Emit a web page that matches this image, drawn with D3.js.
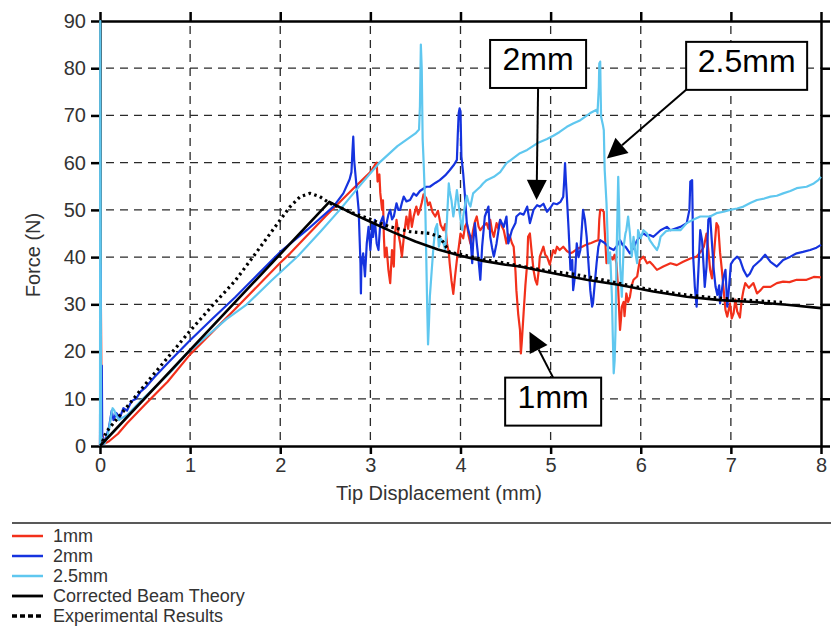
<!DOCTYPE html>
<html>
<head>
<meta charset="utf-8">
<script src="https://cdn.jsdelivr.net/npm/d3@7"></script>
<style>
  html, body { margin: 0; padding: 0; background: #fff; }
  svg { display: block; font-family: "Liberation Sans", Arial, Helvetica, sans-serif; }
</style>
</head>
<body>
<svg id="chart" width="831" height="627"></svg>
<script>
// ---- data: force (N) vs tip displacement (mm) ----
const xTicks = [0, 1, 2, 3, 4, 5, 6, 7, 8];
const yTicks = [0, 10, 20, 30, 40, 50, 60, 70, 80, 90];
const xLabel = "Tip Displacement (mm)";
const yLabel = "Force (N)";
const legendLabels = ["1mm", "2mm", "2.5mm", "Corrected Beam Theory", "Experimental Results"];

// 1 mm specimen
const series1mm = [
  [0,0],[0.01,30],[0.02,3],[0.05,0.5],[0.1,1],[0.2,2.6],[0.3,4.8],[0.5,8.8],[0.75,13.6],[1.0,19.4],
  [1.5,29],[2.0,38.8],[2.11,40.8],[2.5,48.6],[2.8,54.3],[3.0,58],[3.05,59.5],[3.07,60],
  [3.08,56],[3.1,57.5],[3.11,53.6],[3.13,50],[3.14,52],[3.15,44.3],[3.16,40],[3.18,42],[3.2,37.3],
  [3.22,34.5],[3.24,41.5],[3.26,38],[3.27,44.3],[3.29,47.9],[3.31,45],[3.33,43],[3.35,40.1],[3.37,44],
  [3.38,45.7],[3.40,48.6],[3.42,46],[3.44,50],[3.46,46.4],[3.48,48.6],[3.51,50.7],[3.53,49],[3.55,50],
  [3.57,51.5],[3.59,53.3],[3.62,52.5],[3.64,51],[3.66,51.6],[3.69,49.5],[3.72,48.6],[3.75,49.8],
  [3.78,46.8],[3.81,45.7],[3.83,47],[3.85,42.9],[3.87,41],[3.88,38.7],[3.90,35],[3.92,32.2],[3.94,36],
  [3.96,39.4],[3.98,42],[4.0,45],[4.03,44],[4.05,46.5],[4.07,47.2],[4.09,44.5],[4.11,42.9],[4.13,44.5],
  [4.14,45.7],[4.16,47.5],[4.18,48.6],[4.20,46.5],[4.22,45.7],[4.25,46.5],[4.29,47.2],[4.31,46],
  [4.33,47.9],[4.35,45.5],[4.37,44.3],[4.40,47.2],[4.42,46],[4.44,47.9],[4.46,46.5],[4.48,45.7],
  [4.51,42.9],[4.53,44.8],[4.55,44.3],[4.57,43],[4.59,42.2],[4.61,37],[4.62,33],[4.64,28],[4.66,24.6],
  [4.67,19.6],[4.68,22],[4.70,28.1],[4.72,34],[4.74,38.7],[4.75,44.3],[4.77,45],[4.79,41],[4.81,37.3],
  [4.83,35.2],[4.85,34.2],[4.87,37.5],[4.88,40.1],[4.92,42.2],[4.94,40.5],[4.96,40.1],[4.99,38.4],
  [5.01,40],[5.03,41.5],[5.05,40.8],[5.07,42.2],[5.10,41.5],[5.14,42.2],[5.18,41.3],[5.22,40.8],
  [5.25,41.1],[5.3,41.8],[5.35,42.2],[5.4,42.7],[5.45,43],[5.5,43.4],[5.53,43.6],[5.54,48],[5.55,50],
  [5.57,50],[5.59,49.6],[5.60,45.7],[5.62,38.7],[5.64,41],[5.66,40.1],[5.69,39.5],[5.71,40.5],[5.73,38.7],
  [5.75,33],[5.77,24.6],[5.78,26.7],[5.79,29.5],[5.81,30.5],[5.82,27.5],[5.84,32.3],[5.86,30.5],
  [5.88,31.6],[5.90,34],[5.92,35.2],[5.96,35.9],[5.99,39.4],[6.03,40.1],[6.07,38.7],[6.10,39],
  [6.14,38.2],[6.18,37.3],[6.25,38],[6.33,38.7],[6.40,38.3],[6.47,39],[6.55,39.7],[6.62,40.1],
  [6.68,41.5],[6.70,42.2],[6.73,45],[6.75,41.5],[6.77,37.3],[6.79,35.5],[6.81,40],[6.84,47.2],
  [6.86,46.5],[6.88,41],[6.90,37.3],[6.92,33],[6.94,28.8],[6.96,27.4],[6.99,30.2],[7.01,27],[7.03,28.1],
  [7.05,31],[7.07,28.5],[7.10,27.2],[7.12,30.9],[7.14,33],[7.16,34.5],[7.20,33.5],[7.25,34.5],
  [7.29,32.3],[7.33,33],[7.36,33.7],[7.44,33.7],[7.51,34.5],[7.58,34.8],[7.65,34.7],[7.73,35.2],
  [7.84,35.2],[7.92,35.8],[8.0,35.7]
];

// 2 mm specimen
const series2mm = [
  [0,0],[0.005,38.3],[0.01,5],[0.02,17],[0.025,2],[0.04,0.5],[0.07,2],[0.1,4],[0.13,7.5],[0.15,5.5],
  [0.18,7],[0.22,6],[0.26,8],[0.3,7.5],[0.35,9.5],[0.4,10],[0.45,11.5],[0.5,12.3],[0.6,14.5],
  [0.75,17.5],[1.0,22.4],[1.25,27],[1.5,31.5],[1.75,36.3],[2.0,41.1],[2.3,45.8],[2.59,50.7],[2.7,53.5],
  [2.77,56.5],[2.79,58],[2.80,62],[2.81,65.5],[2.82,60.6],[2.83,58.4],[2.85,54.2],[2.87,50],[2.88,44.3],
  [2.89,38.7],[2.895,32.3],[2.90,38],[2.92,40.8],[2.94,35.9],[2.96,42.9],[2.98,46.4],[3.0,41.5],
  [3.02,47.2],[3.03,44.3],[3.05,47.9],[3.07,42.9],[3.09,41.5],[3.11,47.2],[3.14,48.6],[3.16,46],
  [3.18,47.2],[3.20,49],[3.22,50],[3.24,48],[3.26,48.6],[3.29,51.4],[3.31,50],[3.33,50],[3.35,51.5],
  [3.37,52.8],[3.40,51.8],[3.44,52.1],[3.48,53.5],[3.51,53],[3.55,54],[3.62,54.9],[3.66,54.9],
  [3.72,55.7],[3.77,56.3],[3.83,57.3],[3.88,58.4],[3.93,59.6],[3.96,60.6],[3.97,66],[3.98,70.5],
  [3.99,71.5],[4.0,70.8],[4.01,61.3],[4.03,57.7],[4.05,52.8],[4.07,47.2],[4.09,45.5],[4.11,44.3],
  [4.13,38.7],[4.14,42.9],[4.16,47.2],[4.18,43],[4.20,39.4],[4.22,35.2],[4.24,42.2],[4.27,48.6],
  [4.31,50.7],[4.33,44.3],[4.35,42],[4.37,40.1],[4.40,42.9],[4.42,45.5],[4.44,47.9],[4.48,46.4],
  [4.51,48.6],[4.53,42.9],[4.57,45.7],[4.61,47.2],[4.62,48.6],[4.66,49.3],[4.70,49],[4.74,50.7],
  [4.77,47.2],[4.81,50],[4.85,51],[4.88,50.7],[4.92,51.3],[4.96,49.6],[5.0,50.5],[5.03,51.4],
  [5.07,51.2],[5.11,51.7],[5.14,52.8],[5.15,56],[5.16,59.9],[5.17,56],[5.18,52.8],[5.20,45.7],
  [5.22,37.3],[5.24,39.4],[5.25,33],[5.27,36],[5.29,42.9],[5.31,40],[5.33,41.5],[5.35,47.2],[5.36,50],
  [5.38,48],[5.40,44.3],[5.42,38.7],[5.44,33],[5.46,29.5],[5.47,30.2],[5.49,34.5],[5.51,38.7],
  [5.53,42.2],[5.55,43.6],[5.60,43],[5.65,42],[5.70,41.5],[5.74,42.5],[5.77,43.6],[5.80,42.5],
  [5.83,42.2],[5.88,40.8],[5.92,42],[5.96,43.6],[6.0,44.5],[6.03,45],[6.07,44.5],[6.10,44.7],
  [6.14,44.3],[6.22,45.7],[6.29,46.4],[6.33,45.7],[6.44,46.4],[6.51,47.2],[6.54,50],[6.55,56],
  [6.57,56.3],[6.575,50],[6.58,40.8],[6.60,33.7],[6.62,29.5],[6.64,37.3],[6.66,45.7],[6.68,43.6],
  [6.70,37.3],[6.71,33.7],[6.73,38],[6.75,47.9],[6.77,48.6],[6.79,43],[6.81,37.3],[6.83,33.7],
  [6.85,32],[6.87,34],[6.88,30.2],[6.90,33],[6.92,35.9],[6.94,37.3],[6.96,29.5],[6.98,33.7],[7.0,38.5],
  [7.03,39.4],[7.07,40.1],[7.10,39.5],[7.14,37.3],[7.18,35.9],[7.21,36.5],[7.25,38],[7.33,39.4],
  [7.38,40.5],[7.44,39],[7.51,38],[7.58,39.4],[7.66,40.1],[7.73,40.8],[7.80,41.1],[7.88,41.5],
  [7.95,42],[8.0,42.6]
];

// 2.5 mm specimen
const series25mm = [
  [0,0],[0.003,90],[0.008,40],[0.012,2],[0.05,0.5],[0.08,2],[0.1,3.5],[0.12,6],[0.14,8],[0.16,7.5],
  [0.18,6.5],[0.21,5.5],[0.25,6],[0.3,6.5],[0.35,7.5],[0.45,9.5],[0.6,12.3],[0.8,16],[0.96,19.5],
  [1.2,23.5],[1.4,26.8],[1.63,30],[1.9,35],[2.2,40.3],[2.45,45.5],[2.66,50],[2.9,55.5],[3.1,60],
  [3.3,63.5],[3.5,66.2],[3.54,67],[3.55,72],[3.56,85],[3.57,80],[3.58,65],[3.59,60.6],[3.61,50],
  [3.62,40],[3.63,30],[3.64,21.5],[3.65,26],[3.66,31.6],[3.68,37],[3.70,42.2],[3.72,46],[3.74,47],
  [3.76,42.2],[3.78,44],[3.81,43],[3.83,41.5],[3.85,48],[3.87,55.6],[3.88,54],[3.90,52],[3.92,48.6],
  [3.94,51],[3.96,54.2],[3.98,51],[4.0,48],[4.02,45.7],[4.03,48.6],[4.05,51],[4.07,53],[4.09,51.5],
  [4.11,50.7],[4.14,53.5],[4.18,54.2],[4.22,54.9],[4.25,55.6],[4.29,56.3],[4.37,57],[4.44,58],
  [4.51,59.9],[4.59,61],[4.66,62],[4.74,62.7],[4.85,64.1],[4.96,65],[5.03,65.7],[5.10,66.5],
  [5.18,67.6],[5.25,68.3],[5.33,69],[5.44,70.5],[5.51,71.2],[5.52,70.5],[5.535,76],[5.54,81],
  [5.55,81.4],[5.555,75],[5.56,69.7],[5.58,68],[5.59,66.9],[5.60,58.4],[5.62,51.4],[5.63,45.7],
  [5.64,38.7],[5.66,41],[5.68,31.6],[5.69,23.1],[5.70,15.4],[5.71,18],[5.72,24.6],[5.73,38.7],
  [5.75,57],[5.76,50],[5.77,38.7],[5.79,31.6],[5.81,42.2],[5.83,45],[5.84,45.7],[5.86,48.6],[5.88,45],
  [5.90,40.1],[5.92,44.3],[5.94,41],[5.96,38.7],[5.97,45.7],[6.0,44],[6.03,45.7],[6.07,45],[6.10,43.6],
  [6.14,42.5],[6.18,41.5],[6.20,42.5],[6.22,44.3],[6.28,45.5],[6.33,45.7],[6.44,45.7],[6.51,47.2],
  [6.58,47.9],[6.66,48.6],[6.77,48.6],[6.84,49.3],[6.92,49.6],[6.99,50],[7.07,50.3],[7.14,50.7],
  [7.22,51.5],[7.29,52.1],[7.37,52.4],[7.44,52.8],[7.51,53],[7.58,53.5],[7.66,54],[7.73,54.6],
  [7.84,54.9],[7.92,55.6],[7.97,56.3],[8.0,57]
];

// corrected beam theory prediction
const beamTheory = [
  [0,0],[2.545,51.7],[2.8,49.2],[3.0,47.5],[3.25,45.3],[3.5,43.3],[3.75,41.6],[4.0,40.3],[4.25,39.2],
  [4.5,38.4],[4.66,38],[5.0,36.7],[5.4,35.2],[5.77,34.1],[6.14,32.7],[6.51,31.6],[6.88,30.9],
  [7.25,30.5],[7.62,29.9],[8.0,29.2]
];

// averaged experimental curve
const experimental = [
  [0.03,1],[0.07,3],[0.3,8.3],[0.5,13],[0.75,18.7],[1.0,24.4],[1.25,29.8],[1.5,35],[1.7,40.1],
  [1.85,44],[2.0,47.9],[2.11,50.7],[2.22,52.8],[2.33,53.5],[2.44,52.8],[2.55,51.4],[2.8,49.4],
  [3.0,48],[3.2,46.5],[3.44,45.4],[3.66,45],[3.77,44.3],[3.88,41],[4.0,40.6],[4.25,39.5],[4.5,38.7],
  [4.75,37.8],[5.0,37],[5.25,36.4],[5.5,35.5],[5.75,34.5],[6.0,33.5],[6.25,32.7],[6.5,32],
  [6.75,31.5],[7.0,31.1],[7.25,30.8],[7.58,30.4]
];

const colors = { mm1: "#f2301b", mm2: "#1533df", mm25: "#5fc7ef", beam: "#000" };

// annotation call-outs (box centre and arrow tip in data units)
const callouts = [
  { text: "2mm",   box: [4.861, 80.9], w: 96,  tip: [4.844, 52.1], from: "bottom" },
  { text: "2.5mm", box: [7.175, 80.5], w: 121, tip: [5.624, 60.9], from: "bottomLeft" },
  { text: "1mm",   box: [5.028, 9.4],  w: 96,  tip: [4.765, 24.2], from: "top" }
];

// ---- layout ----
const svg = d3.select("#chart");
const plot = { left: 100, right: 821, top: 21, bottom: 446 };
const x = d3.scaleLinear().domain([0, 8]).range([plot.left, plot.right]);
const y = d3.scaleLinear().domain([0, 90]).range([plot.bottom, plot.top]);
const textColor = "#333";

// dashed grid
const grid = svg.append("g").attr("stroke", "#2a2a2a").attr("stroke-width", 1.3)
  .attr("stroke-dasharray", "8,6").attr("fill", "none");
grid.selectAll("line.v").data(xTicks.filter(d => d > 0 && d < 8)).join("line")
  .attr("x1", d => x(d)).attr("x2", d => x(d))
  .attr("y1", plot.bottom).attr("y2", plot.top).attr("stroke-dashoffset", 8);
grid.selectAll("line.h").data(yTicks.filter(d => d > 0 && d < 90)).join("line")
  .attr("x1", plot.left).attr("x2", plot.right)
  .attr("y1", d => y(d)).attr("y2", d => y(d)).attr("stroke-dashoffset", 8);

// axes on all four sides
function styleAxis(g) {
  g.select(".domain").attr("stroke", "#000").attr("stroke-width", 2.5);
  g.selectAll(".tick line").attr("stroke", "#000").attr("stroke-width", 2.5);
  g.selectAll(".tick text").attr("fill", textColor).attr("font-size", 20)
    .attr("font-family", "'Liberation Sans', Arial, sans-serif");
}
svg.append("g").attr("transform", `translate(0,${plot.bottom})`)
  .call(d3.axisBottom(x).tickValues(xTicks).tickFormat(d3.format("d")).tickSize(8).tickSizeOuter(0).tickPadding(4))
  .call(styleAxis);
svg.append("g").attr("transform", `translate(${plot.left},0)`)
  .call(d3.axisLeft(y).tickValues(yTicks).tickFormat(d3.format("d")).tickSize(9).tickSizeOuter(0).tickPadding(5))
  .call(styleAxis);
svg.append("g").attr("transform", `translate(0,${plot.top})`)
  .call(d3.axisTop(x).tickValues(xTicks).tickFormat("").tickSize(9).tickSizeOuter(0))
  .call(styleAxis);
svg.append("g").attr("transform", `translate(${plot.right},0)`)
  .call(d3.axisRight(y).tickValues(yTicks).tickFormat("").tickSize(9).tickSizeOuter(0))
  .call(styleAxis);

// axis titles
svg.append("text").attr("x", 439).attr("y", 500).attr("text-anchor", "middle")
  .attr("font-size", 20).attr("fill", textColor).text(xLabel);
svg.append("text").attr("transform", "translate(40,255) rotate(-90)").attr("text-anchor", "middle")
  .attr("font-size", 20).attr("fill", textColor).text(yLabel);

// curves
const line = d3.line().x(d => x(d[0])).y(d => y(d[1]));
const curves = svg.append("g").attr("fill", "none").attr("stroke-linejoin", "round");
curves.append("path").datum(series1mm).attr("d", line).attr("stroke", colors.mm1).attr("stroke-width", 2.2);
curves.append("path").datum(series2mm).attr("d", line).attr("stroke", colors.mm2).attr("stroke-width", 2.2);
curves.append("path").datum(series25mm).attr("d", line).attr("stroke", colors.mm25).attr("stroke-width", 2.2);
curves.append("path").datum(beamTheory).attr("d", line).attr("stroke", colors.beam).attr("stroke-width", 2.6);
curves.append("path").datum(experimental).attr("d", line).attr("stroke", "#000")
  .attr("stroke-width", 3.2).attr("stroke-dasharray", "2.5,3.5");

// call-outs with arrows
const ann = svg.append("g");
const boxH = 48;
callouts.forEach(c => {
  const cx = x(c.box[0]), cy = y(c.box[1]);
  const bx = cx - c.w / 2, by = cy - boxH / 2;
  let sx, sy;
  if (c.from === "bottom") { sx = cx; sy = by + boxH; }
  else if (c.from === "top") { sx = cx; sy = by; }
  else { sx = bx; sy = by + boxH; }
  const tx = x(c.tip[0]), ty = y(c.tip[1]);
  const ang = Math.atan2(ty - sy, tx - sx);
  const hl = 20, hw = 10;
  const baseX = tx - hl * Math.cos(ang), baseY = ty - hl * Math.sin(ang);
  ann.append("line").attr("x1", sx).attr("y1", sy).attr("x2", baseX).attr("y2", baseY)
    .attr("stroke", "#000").attr("stroke-width", 2);
  const px = -Math.sin(ang), py = Math.cos(ang);
  ann.append("path")
    .attr("d", `M${tx},${ty}L${baseX + hw * px},${baseY + hw * py}L${baseX - hw * px},${baseY - hw * py}Z`)
    .attr("fill", "#000");
  ann.append("rect").attr("x", bx).attr("y", by).attr("width", c.w).attr("height", boxH)
    .attr("fill", "#fff").attr("stroke", "#000").attr("stroke-width", 2);
  ann.append("text").attr("x", cx).attr("y", by + 30).attr("text-anchor", "middle")
    .attr("font-size", 32).attr("fill", "#000").text(c.text);
});

// legend below the chart
svg.append("line").attr("x1", 12).attr("x2", 831).attr("y1", 523).attr("y2", 523)
  .attr("stroke", "#222").attr("stroke-width", 1.5);
const legendStyles = [
  { color: colors.mm1, dash: null, w: 2.5 },
  { color: colors.mm2, dash: null, w: 2.5 },
  { color: colors.mm25, dash: null, w: 2.5 },
  { color: "#000", dash: null, w: 2.8 },
  { color: "#000", dash: "5,3", w: 3.5 }
];
const legend = svg.append("g");
legendLabels.forEach((name, i) => {
  const ly = 536 + i * 20;
  const s = legendStyles[i];
  legend.append("line").attr("x1", 12).attr("x2", 43).attr("y1", ly).attr("y2", ly)
    .attr("stroke", s.color).attr("stroke-width", s.w).attr("stroke-dasharray", s.dash);
  legend.append("text").attr("x", 53).attr("y", ly).attr("dy", "0.35em")
    .attr("font-size", 18).attr("fill", textColor).text(name);
});
</script>
</body>
</html>
